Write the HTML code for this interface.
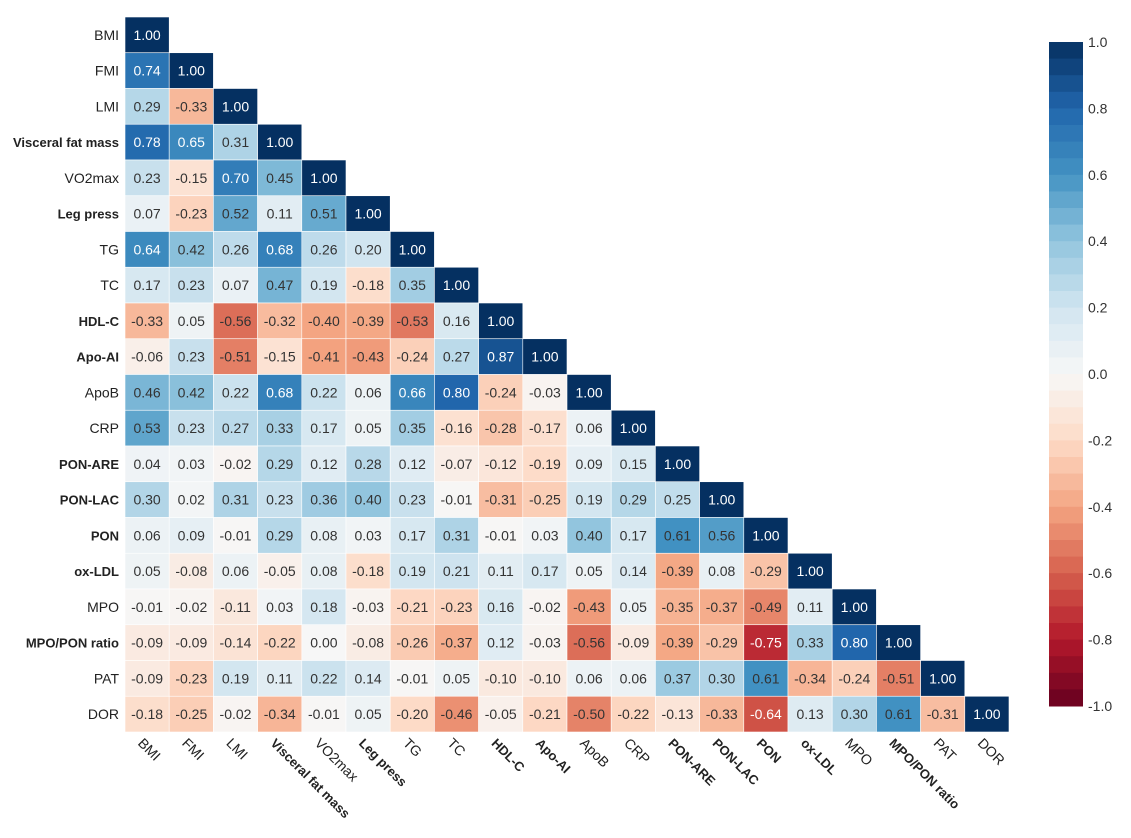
<!DOCTYPE html>
<html><head><meta charset="utf-8"><style>
body{margin:0;background:#fff;width:1131px;height:833px;overflow:hidden;font-family:"Liberation Sans",sans-serif}
</style></head><body>
<svg id="chart" width="1131" height="833" xmlns="http://www.w3.org/2000/svg"></svg>
<script>
const labels=["BMI","FMI","LMI","Visceral fat mass","VO2max","Leg press","TG","TC","HDL-C","Apo-AI","ApoB","CRP","PON-ARE","PON-LAC","PON","ox-LDL","MPO","MPO/PON ratio","PAT","DOR"];
const boldLabels=["Visceral fat mass","Leg press","HDL-C","Apo-AI","PON-ARE","PON-LAC","PON","ox-LDL","MPO/PON ratio"];
const r0=[1.00];
const r1=[0.74,1.00];
const r2=[0.29,-0.33,1.00];
const r3=[0.78,0.65,0.31,1.00];
const r4=[0.23,-0.15,0.70,0.45,1.00];
const r5=[0.07,-0.23,0.52,0.11,0.51,1.00];
const r6=[0.64,0.42,0.26,0.68,0.26,0.20,1.00];
const r7=[0.17,0.23,0.07,0.47,0.19,-0.18,0.35,1.00];
const r8=[-0.33,0.05,-0.56,-0.32,-0.40,-0.39,-0.53,0.16,1.00];
const r9=[-0.06,0.23,-0.51,-0.15,-0.41,-0.43,-0.24,0.27,0.87,1.00];
const r10=[0.46,0.42,0.22,0.68,0.22,0.06,0.66,0.80,-0.24,-0.03,1.00];
const r11=[0.53,0.23,0.27,0.33,0.17,0.05,0.35,-0.16,-0.28,-0.17,0.06,1.00];
const r12=[0.04,0.03,-0.02,0.29,0.12,0.28,0.12,-0.07,-0.12,-0.19,0.09,0.15,1.00];
const r13=[0.30,0.02,0.31,0.23,0.36,0.40,0.23,-0.01,-0.31,-0.25,0.19,0.29,0.25,1.00];
const r14=[0.06,0.09,-0.01,0.29,0.08,0.03,0.17,0.31,-0.01,0.03,0.40,0.17,0.61,0.56,1.00];
const r15=[0.05,-0.08,0.06,-0.05,0.08,-0.18,0.19,0.21,0.11,0.17,0.05,0.14,-0.39,0.08,-0.29,1.00];
const r16=[-0.01,-0.02,-0.11,0.03,0.18,-0.03,-0.21,-0.23,0.16,-0.02,-0.43,0.05,-0.35,-0.37,-0.49,0.11,1.00];
const r17=[-0.09,-0.09,-0.14,-0.22,0.00,-0.08,-0.26,-0.37,0.12,-0.03,-0.56,-0.09,-0.39,-0.29,-0.75,0.33,0.80,1.00];
const r18=[-0.09,-0.23,0.19,0.11,0.22,0.14,-0.01,0.05,-0.10,-0.10,0.06,0.06,0.37,0.30,0.61,-0.34,-0.24,-0.51,1.00];
const r19=[-0.18,-0.25,-0.02,-0.34,-0.01,0.05,-0.20,-0.46,-0.05,-0.21,-0.50,-0.22,-0.13,-0.33,-0.64,0.13,0.30,0.61,-0.31,1.00];
const rows=[r0,r1,r2,r3,r4,r5,r6,r7,r8,r9,r10,r11,r12,r13,r14,r15,r16,r17,r18,r19];
const cbTicks=[1.0,0.8,0.6,0.4,0.2,0.0,-0.2,-0.4,-0.6,-0.8,-1.0];

const X0=125,Y0=17,CW=44.2,CH=35.75;
const xPos=i=>X0+i*CW, yPos=j=>Y0+j*CH;
const stops=[[-1,[103,0,31]],[-0.8,[178,24,43]],[-0.6,[214,96,77]],[-0.4,[244,165,130]],[-0.2,[253,219,199]],[0,[247,247,247]],[0.2,[209,229,240]],[0.4,[146,197,222]],[0.6,[67,147,195]],[0.8,[33,102,172]],[1,[5,48,97]]];
function color(v){v=Math.max(-1,Math.min(1,v));for(let k=0;k<stops.length-1;k++){const a=stops[k],b=stops[k+1];if(v<=b[0]){const t=(v-a[0])/(b[0]-a[0]);const c=a[1].map((x,i)=>Math.round(x+(b[1][i]-x)*t));return`rgb(${c})`;}}return'rgb(5,48,97)';}
const svg=document.getElementById('chart'),NS='http://www.w3.org/2000/svg';
function el(t,a,p){const e=document.createElementNS(NS,t);for(const k in a)e.setAttribute(k,a[k]);(p||svg).appendChild(e);return e;}
rows.forEach((row,j)=>{row.forEach((v,i)=>{
 const r=el('rect',{x:xPos(i),y:yPos(j),width:CW,height:CH,fill:color(v),stroke:'#fff','stroke-width':0.6});
 
 
 const t=el('text',{x:xPos(i)+CW/2,y:yPos(j)+CH/2+5,'text-anchor':'middle','font-size':14,fill:Math.abs(v)>=0.62?'#fff':'#333'});
 t.textContent=v.toFixed(2);
 
 
});});
labels.forEach((l,j)=>{
 const b=boldLabels.includes(l);
 const t=el('text',{x:119,y:yPos(j)+CH/2+5,'text-anchor':'end','font-size':b?13:14,'font-weight':b?'bold':'normal',fill:'#222'});
 t.textContent=l;
 
 
 const cx=xPos(j)+CW/2-10,cy=Y0+20*CH+12;
 const u=el('text',{x:cx,y:cy,'font-size':b?13:14,'font-weight':b?'bold':'normal',fill:'#222',transform:`rotate(45 ${cx} ${cy})`});
 u.textContent=l;
 
 
});
// colorbar
const CBX=1049,CBW=34,CBT=42,CBB=706,N=40;
const cby=v=>CBT+(1-v)/2*(CBB-CBT);
for(let k=0;k<N;k++){const v1=1-k*2/N,v2=v1-2/N;
 const r=el('rect',{x:CBX,y:cby(v1),width:CBW,height:cby(v2)-cby(v1)+0.5,fill:color((v1+v2)/2)});
 
 
}
cbTicks.forEach(v=>{
 const t=el('text',{x:1088,y:cby(v)+5,'font-size':14,fill:'#333'});
 t.textContent=v.toFixed(1);
 
 
});
</script>
</body></html>
